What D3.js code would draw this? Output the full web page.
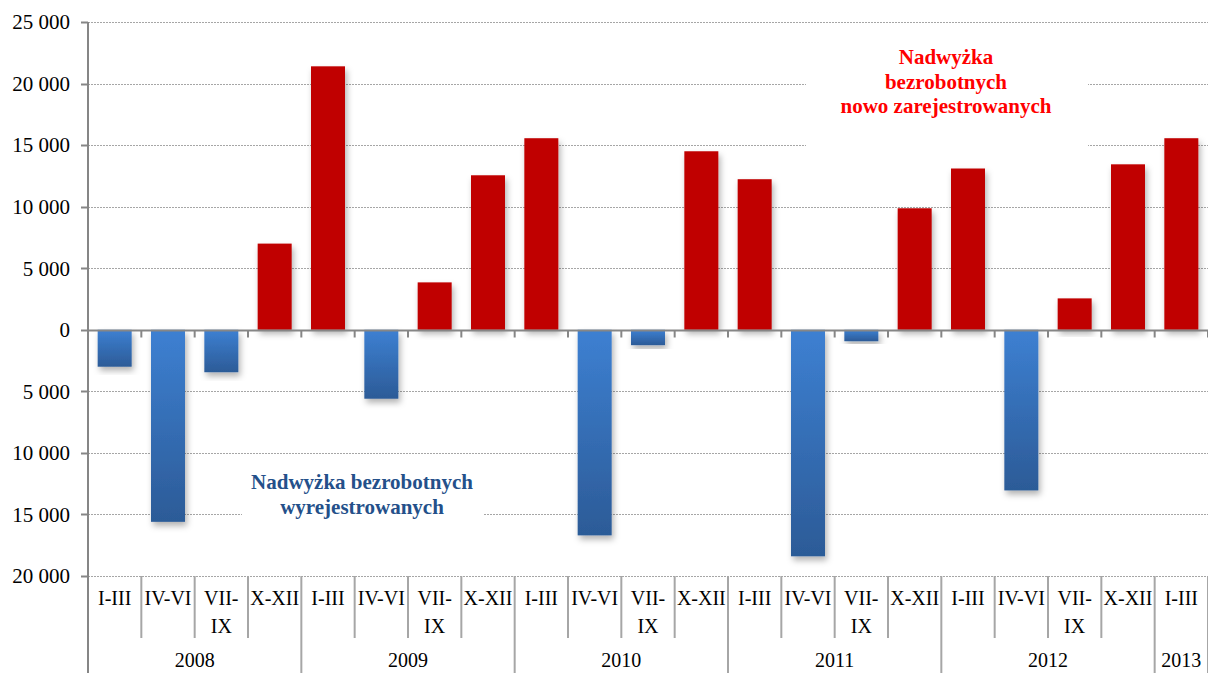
<!DOCTYPE html>
<html>
<head>
<meta charset="utf-8">
<script src="https://cdn.jsdelivr.net/npm/d3@7"></script>
<style>
  body { margin: 0; background: #fff; }
  text { font-family: "Liberation Serif", "Times New Roman", serif; }
</style>
</head>
<body>
<svg id="chart" width="1208" height="673"></svg>
<script>
// quarters and years of the category axis
var quarters = ["I-III","IV-VI","VII-IX","X-XII","I-III","IV-VI","VII-IX","X-XII","I-III","IV-VI","VII-IX","X-XII",
                "I-III","IV-VI","VII-IX","X-XII","I-III","IV-VI","VII-IX","X-XII","I-III"];
var years = ["2008","2009","2010","2011","2012","2013"];
var quartersPerYear = [4,4,4,4,4,1];
// surplus (+ newly registered, - deregistered)
var values = [-3000,-15600,-3450,7000,21400,-5600,3850,12550,15560,-16700,-1250,14500,
              12230,-18400,-930,9870,13100,-13050,2550,13440,15560];
var yTicks = [-20000,-15000,-10000,-5000,0,5000,10000,15000,20000,25000];

var svg = d3.select("#chart");
var plotL = 88, plotR = 1208, plotT = 22, plotB = 576;

var x = d3.scaleBand()
    .domain(d3.range(values.length))
    .range([plotL, plotR])
    .paddingInner(0.3625)
    .paddingOuter(0.18125);

var y = d3.scaleLinear()
    .domain([-20000, 25000])
    .range([plotB, plotT]);

var defs = svg.append("defs");
var grad = defs.append("linearGradient").attr("id", "blueGrad")
    .attr("x1", 0).attr("y1", 0).attr("x2", 0).attr("y2", 1);
grad.append("stop").attr("offset", "0%").attr("stop-color", "#3d80d2");
grad.append("stop").attr("offset", "100%").attr("stop-color", "#2c5b97");

var shadow = defs.append("filter").attr("id", "shadow")
    .attr("x", "-30%").attr("y", "-10%").attr("width", "160%").attr("height", "130%");
shadow.append("feDropShadow").attr("dx", 2).attr("dy", 4)
    .attr("stdDeviation", 3).attr("flood-color", "#000").attr("flood-opacity", 0.3);

var fmt = function(d) { return d3.format(",")(Math.abs(d)).replace(/,/g, " "); };

// gridlines
svg.append("g").selectAll("line")
    .data(yTicks.filter(function(d) { return d !== 0; }))
    .enter().append("line")
    .attr("x1", plotL).attr("x2", plotR)
    .attr("y1", function(d) { return Math.round(y(d)) + 0.5; })
    .attr("y2", function(d) { return Math.round(y(d)) + 0.5; })
    .attr("stroke", "#a6a6a6")
    .attr("stroke-dasharray", "2,1");

// y axis labels and ticks
var yAxis = svg.append("g");
yAxis.selectAll("text").data(yTicks).enter().append("text")
    .attr("x", 70).attr("y", function(d) { return y(d); })
    .attr("dy", "0.35em")
    .attr("text-anchor", "end")
    .attr("font-size", 21)
    .text(fmt);
yAxis.selectAll("line").data(yTicks).enter().append("line")
    .attr("x1", 81).attr("x2", plotL)
    .attr("y1", function(d) { return Math.round(y(d)) + 0.5; })
    .attr("y2", function(d) { return Math.round(y(d)) + 0.5; })
    .attr("stroke", "#868686").attr("stroke-width", 2);

// bars
svg.append("g").selectAll("rect")
    .data(values).enter().append("rect")
    .attr("x", function(d, i) { return x(i); })
    .attr("width", x.bandwidth())
    .attr("y", function(d) { return y(Math.max(0, d)); })
    .attr("height", function(d) { return Math.abs(y(d) - y(0)); })
    .attr("fill", function(d) { return d > 0 ? "#c00000" : "url(#blueGrad)"; })
    .attr("filter", "url(#shadow)");

// zero line and its ticks
var y0 = Math.round(y(0)) + 0.5;
svg.append("line").attr("x1", plotL).attr("x2", plotR).attr("y1", y0).attr("y2", y0)
    .attr("stroke", "#868686").attr("stroke-width", 2);
svg.append("g").selectAll("line")
    .data(d3.range(values.length + 1)).enter().append("line")
    .attr("x1", function(i) { return plotL + i * x.step(); })
    .attr("x2", function(i) { return plotL + i * x.step(); })
    .attr("y1", y0).attr("y2", y0 + 7)
    .attr("stroke", "#868686").attr("stroke-width", 2);

// y axis line (runs down through the category rows)
svg.append("line").attr("x1", plotL).attr("x2", plotL).attr("y1", plotT).attr("y2", 673)
    .attr("stroke", "#868686").attr("stroke-width", 2);

// category axis: quarter rows
var cat = svg.append("g");
var yearStart = d3.cumsum([0].concat(quartersPerYear));
cat.selectAll("line.q")
    .data(d3.range(1, values.length + 1)).enter().append("line")
    .attr("class", "q")
    .attr("x1", function(i) { return plotL + i * x.step(); })
    .attr("x2", function(i) { return plotL + i * x.step(); })
    .attr("y1", plotB)
    .attr("y2", function(i) { return yearStart.indexOf(i) >= 0 ? 673 : 638; })
    .attr("stroke", "#a6a6a6").attr("stroke-width", 2);

var qLabels = cat.selectAll("text.q")
    .data(quarters).enter().append("text")
    .attr("class", "q")
    .attr("x", function(d, i) { return x(i) + x.bandwidth() / 2; })
    .attr("y", 605)
    .attr("text-anchor", "middle")
    .attr("font-size", 20);
qLabels.each(function(d) {
    var t = d3.select(this);
    t.text(d);
    if (this.getComputedTextLength() > x.step() - 2) {
        var parts = [d.slice(0, d.indexOf("-") + 1), d.slice(d.indexOf("-") + 1)];
        t.text(null);
        parts.forEach(function(p, k) {
            t.append("tspan").attr("x", t.attr("x")).attr("dy", k ? 28 : 0).text(p);
        });
    }
});

// year labels
cat.selectAll("text.y")
    .data(years).enter().append("text")
    .attr("class", "y")
    .attr("x", function(d, i) { return plotL + (yearStart[i] + quartersPerYear[i] / 2) * x.step(); })
    .attr("y", 667)
    .attr("text-anchor", "middle")
    .attr("font-size", 20)
    .text(function(d) { return d; });

// annotation boxes
function note(cx, lines, baseline, color, box) {
    svg.append("rect").attr("x", box[0]).attr("y", box[1])
        .attr("width", box[2]).attr("height", box[3]).attr("fill", "#fff");
    var t = svg.append("text").attr("text-anchor", "middle")
        .attr("font-size", 21).attr("font-weight", "bold").attr("fill", color);
    lines.forEach(function(l, k) {
        t.append("tspan").attr("x", cx).attr("y", baseline + k * 24.5).text(l);
    });
}
note(946, ["Nadwyżka", "bezrobotnych", "nowo zarejestrowanych"], 64, "#ff0000", [806, 36, 282, 124]);
note(362, ["Nadwyżka bezrobotnych", "wyrejestrowanych"], 489, "#24508a", [242, 464, 241, 64]);
</script>
</body>
</html>
